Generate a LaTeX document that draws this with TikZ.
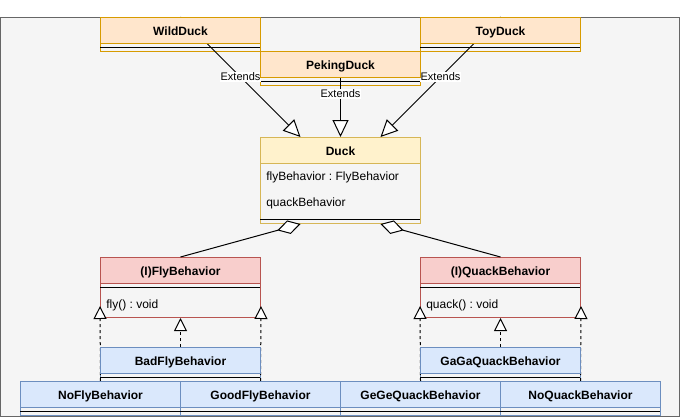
\documentclass[tikz,border=0pt]{standalone}
\usepackage{fontspec}
\setmainfont{Liberation Sans}
\usetikzlibrary{arrows.meta,calc}
\frenchspacing
\definecolor{bgfill}{HTML}{F5F5F5}
\definecolor{bgline}{HTML}{666666}
\definecolor{orfill}{HTML}{FFE6CC}
\definecolor{orline}{HTML}{D79B00}
\definecolor{yefill}{HTML}{FFF2CC}
\definecolor{yeline}{HTML}{D6B656}
\definecolor{refill}{HTML}{F8CECC}
\definecolor{reline}{HTML}{B85450}
\definecolor{blfill}{HTML}{DAE8FC}
\definecolor{blline}{HTML}{6C8EBF}
\tikzset{
  clsoutline/.style={rectangle, line width=0.75pt, inner sep=0pt, minimum width=120pt, anchor=north west},
  clshead/.style={clsoutline, minimum height=19.5pt, text height=7.9pt, text depth=0pt, font=\bfseries\fontsize{9}{11}\selectfont},
  attrtext/.style={anchor=west, inner sep=0pt, text height=7pt, text depth=0pt, font=\fontsize{9}{11}\selectfont},
  sepline/.style={line width=0.75pt, black},
  extline/.style={line width=0.75pt, black, -{Triangle[length=12.75pt,width=12pt,fill=white]}},
  aggline/.style={line width=0.75pt, black, -{Diamond[length=18pt,width=10.5pt,fill=white]}},
  implline/.style={line width=0.75pt, black, dash pattern=on 2.25pt off 2.25pt, -{Triangle[length=9.75pt,width=9.75pt,fill=white]}},
  edgelabel/.style={fill=white, inner sep=0.6pt, font=\fontsize{8.25}{9}\selectfont}
}
\newcommand\clsbox[5]{\node[clsoutline, draw=#5, minimum height=#4*0.75pt] (#1) at (#2,#3) {};}
\newcommand\clshdr[6]{\node[clshead, fill=#4, draw=#5] (#1-h) at (#2,#3) {#6};}
\begin{document}
\begin{tikzpicture}[x=0.75pt,y=-0.75pt]
\useasboundingbox (0,0) rectangle (681,418);
% frame
\draw[fill=bgfill, draw=bgline, line width=0.75pt] (0.4,17.4) rectangle (679.6,416.8);
% outlines
\clsbox{wild}{100}{17}{34}{orline}
\clsbox{peking}{260}{51}{34}{orline}
\clsbox{toy}{420}{17}{34}{orline}
\clsbox{duck}{260}{137}{86}{yeline}
\clsbox{fly}{100}{257}{60}{reline}
\clsbox{quack}{420}{257}{60}{reline}
\clsbox{bad}{100}{347}{34}{blline}
\clsbox{gaga}{420}{347}{34}{blline}
\clsbox{nofly}{20}{381}{34}{blline}
\clsbox{goodfly}{180}{381}{34}{blline}
\clsbox{gege}{340}{381}{34}{blline}
\clsbox{noquack}{500}{381}{34}{blline}
% headers below edges
\clshdr{duck}{260}{137}{yefill}{yeline}{Duck}
\clshdr{fly}{100}{257}{refill}{reline}{(I)FlyBehavior}
\clshdr{quack}{420}{257}{refill}{reline}{(I)QuackBehavior}
% separators
\draw[sepline] (100,47) -- (260,47);
\draw[sepline] (260,81) -- (420,81);
\draw[sepline] (420,47) -- (580,47);
\draw[sepline] (260,219) -- (420,219);
\draw[sepline] (100,287) -- (260,287);
\draw[sepline] (420,287) -- (580,287);
\draw[sepline] (100,377) -- (260,377);
\draw[sepline] (420,377) -- (580,377);
\draw[sepline] (20,411) -- (660,411);
% attributes
\node[attrtext] (duck-a1) at (266,176) {flyBehavior : FlyBehavior};
\node[attrtext] (duck-a2) at (266,202) {quackBehavior};
\node[attrtext] (fly-m1) at (106,304) {fly() : void};
\node[attrtext] (quack-m1) at (426,304) {quack() : void};
% extends edges
\draw[extline] (wild.north) -- ([xshift=-30pt]duck.north) node[edgelabel, pos=0.5] {Extends};
\draw[extline] (peking.north) -- (duck.north) node[edgelabel, pos=0.5] {Extends};
\draw[extline] (toy.north) -- ([xshift=30pt]duck.north) node[edgelabel, pos=0.5] {Extends};
% aggregation
\draw[aggline] (fly.north) -- ([xshift=-30pt]duck.south);
\draw[aggline] (quack.north) -- ([xshift=30pt]duck.south);
% implementation
\draw[implline] (nofly.north) -- ([yshift=9pt]fly.south west);
\draw[implline] (goodfly.north) -- ([yshift=9pt]fly.south east);
\draw[implline] (bad.north) -- (fly.south);
\draw[implline] (gege.north) -- ([yshift=9pt]quack.south west);
\draw[implline] (noquack.north) -- ([yshift=9pt]quack.south east);
\draw[implline] (gaga.north) -- (quack.south);
% headers above edges
\clshdr{wild}{100}{17}{orfill}{orline}{WildDuck}
\clshdr{peking}{260}{51}{orfill}{orline}{PekingDuck}
\clshdr{toy}{420}{17}{orfill}{orline}{ToyDuck}
\clshdr{bad}{100}{347}{blfill}{blline}{BadFlyBehavior}
\clshdr{gaga}{420}{347}{blfill}{blline}{GaGaQuackBehavior}
\clshdr{nofly}{20}{381}{blfill}{blline}{NoFlyBehavior}
\clshdr{goodfly}{180}{381}{blfill}{blline}{GoodFlyBehavior}
\clshdr{gege}{340}{381}{blfill}{blline}{GeGeQuackBehavior}
\clshdr{noquack}{500}{381}{blfill}{blline}{NoQuackBehavior}
\end{tikzpicture}
\end{document}
